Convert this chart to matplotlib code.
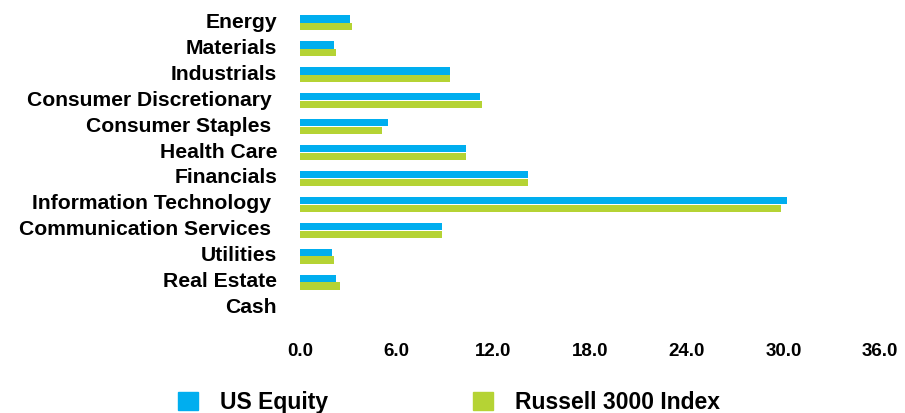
import numpy as np
import matplotlib.pyplot as plt
import matplotlib.transforms as mtransforms
from matplotlib.patches import Patch


###################################################################
#                     Sector weights (%)
###################################################################
sectors = ['Energy', 'Materials', 'Industrials', 'Consumer Discretionary ',
           'Consumer Staples ', 'Health Care', 'Financials',
           'Information Technology ', 'Communication Services ', 'Utilities',
           'Real Estate', 'Cash']
us_equity = [3.10, 2.10, 9.30, 11.16, 5.46, 10.29, 14.13, 30.24, 8.80, 1.98, 2.25, 0.0]
russell_3000 = [3.22, 2.23, 9.30, 11.29, 5.09, 10.29, 14.13, 29.86, 8.80, 2.10, 2.48, 0.0]
x_ticks = [0, 6, 12, 18, 24, 30, 36]
#------------------------------------------------------------------

blue = '#00AEEF'
green = '#B5D334'
plt.rc('font', family='Liberation Sans', weight='bold')

fig = plt.figure(figsize=(9.05, 4.13), dpi=100)
ax = fig.add_axes([300 / 905, 1 - 321 / 413, 580 / 905, 311 / 413])

y = np.arange(len(sectors))
h = 0.28
ax.barh(y - h / 2 - 0.01, us_equity, height=h, color=blue)
ax.barh(y + h / 2 + 0.01, russell_3000, height=h, color=green)

ax.set_ylim(len(sectors) - 0.5, -0.5)
ax.set_xlim(0, 36)
ax.set_yticks(y)
ax.set_yticklabels(sectors, fontsize=15.2)
ax.set_xticks(x_ticks)
ax.set_xticklabels([f'{t:.1f}' for t in x_ticks], fontsize=13.5)
ax.tick_params(axis='y', length=0, pad=16.5)
ax.tick_params(axis='x', length=0, pad=15.5)
for s in ax.spines.values():
    s.set_visible(False)

# nudge the category names up a little
shift = mtransforms.ScaledTranslation(0, 2.5 / 100, fig.dpi_scale_trans)
for lab in ax.get_yticklabels():
    lab.set_transform(lab.get_transform() + shift)

# legend along the bottom edge
handles = [Patch(color=blue, label='US Equity'),
           Patch(color=green, label='Russell 3000 Index')]
fig.legend(handles=handles, loc='upper left', ncol=2, frameon=False,
           bbox_to_anchor=(178 / 905, 1 - 391 / 413), fontsize=16.5,
           handlelength=0.88, handleheight=0.88, handletextpad=0.97,
           columnspacing=6.3, borderpad=0, borderaxespad=0)

fig.savefig('out.png', dpi=100)
